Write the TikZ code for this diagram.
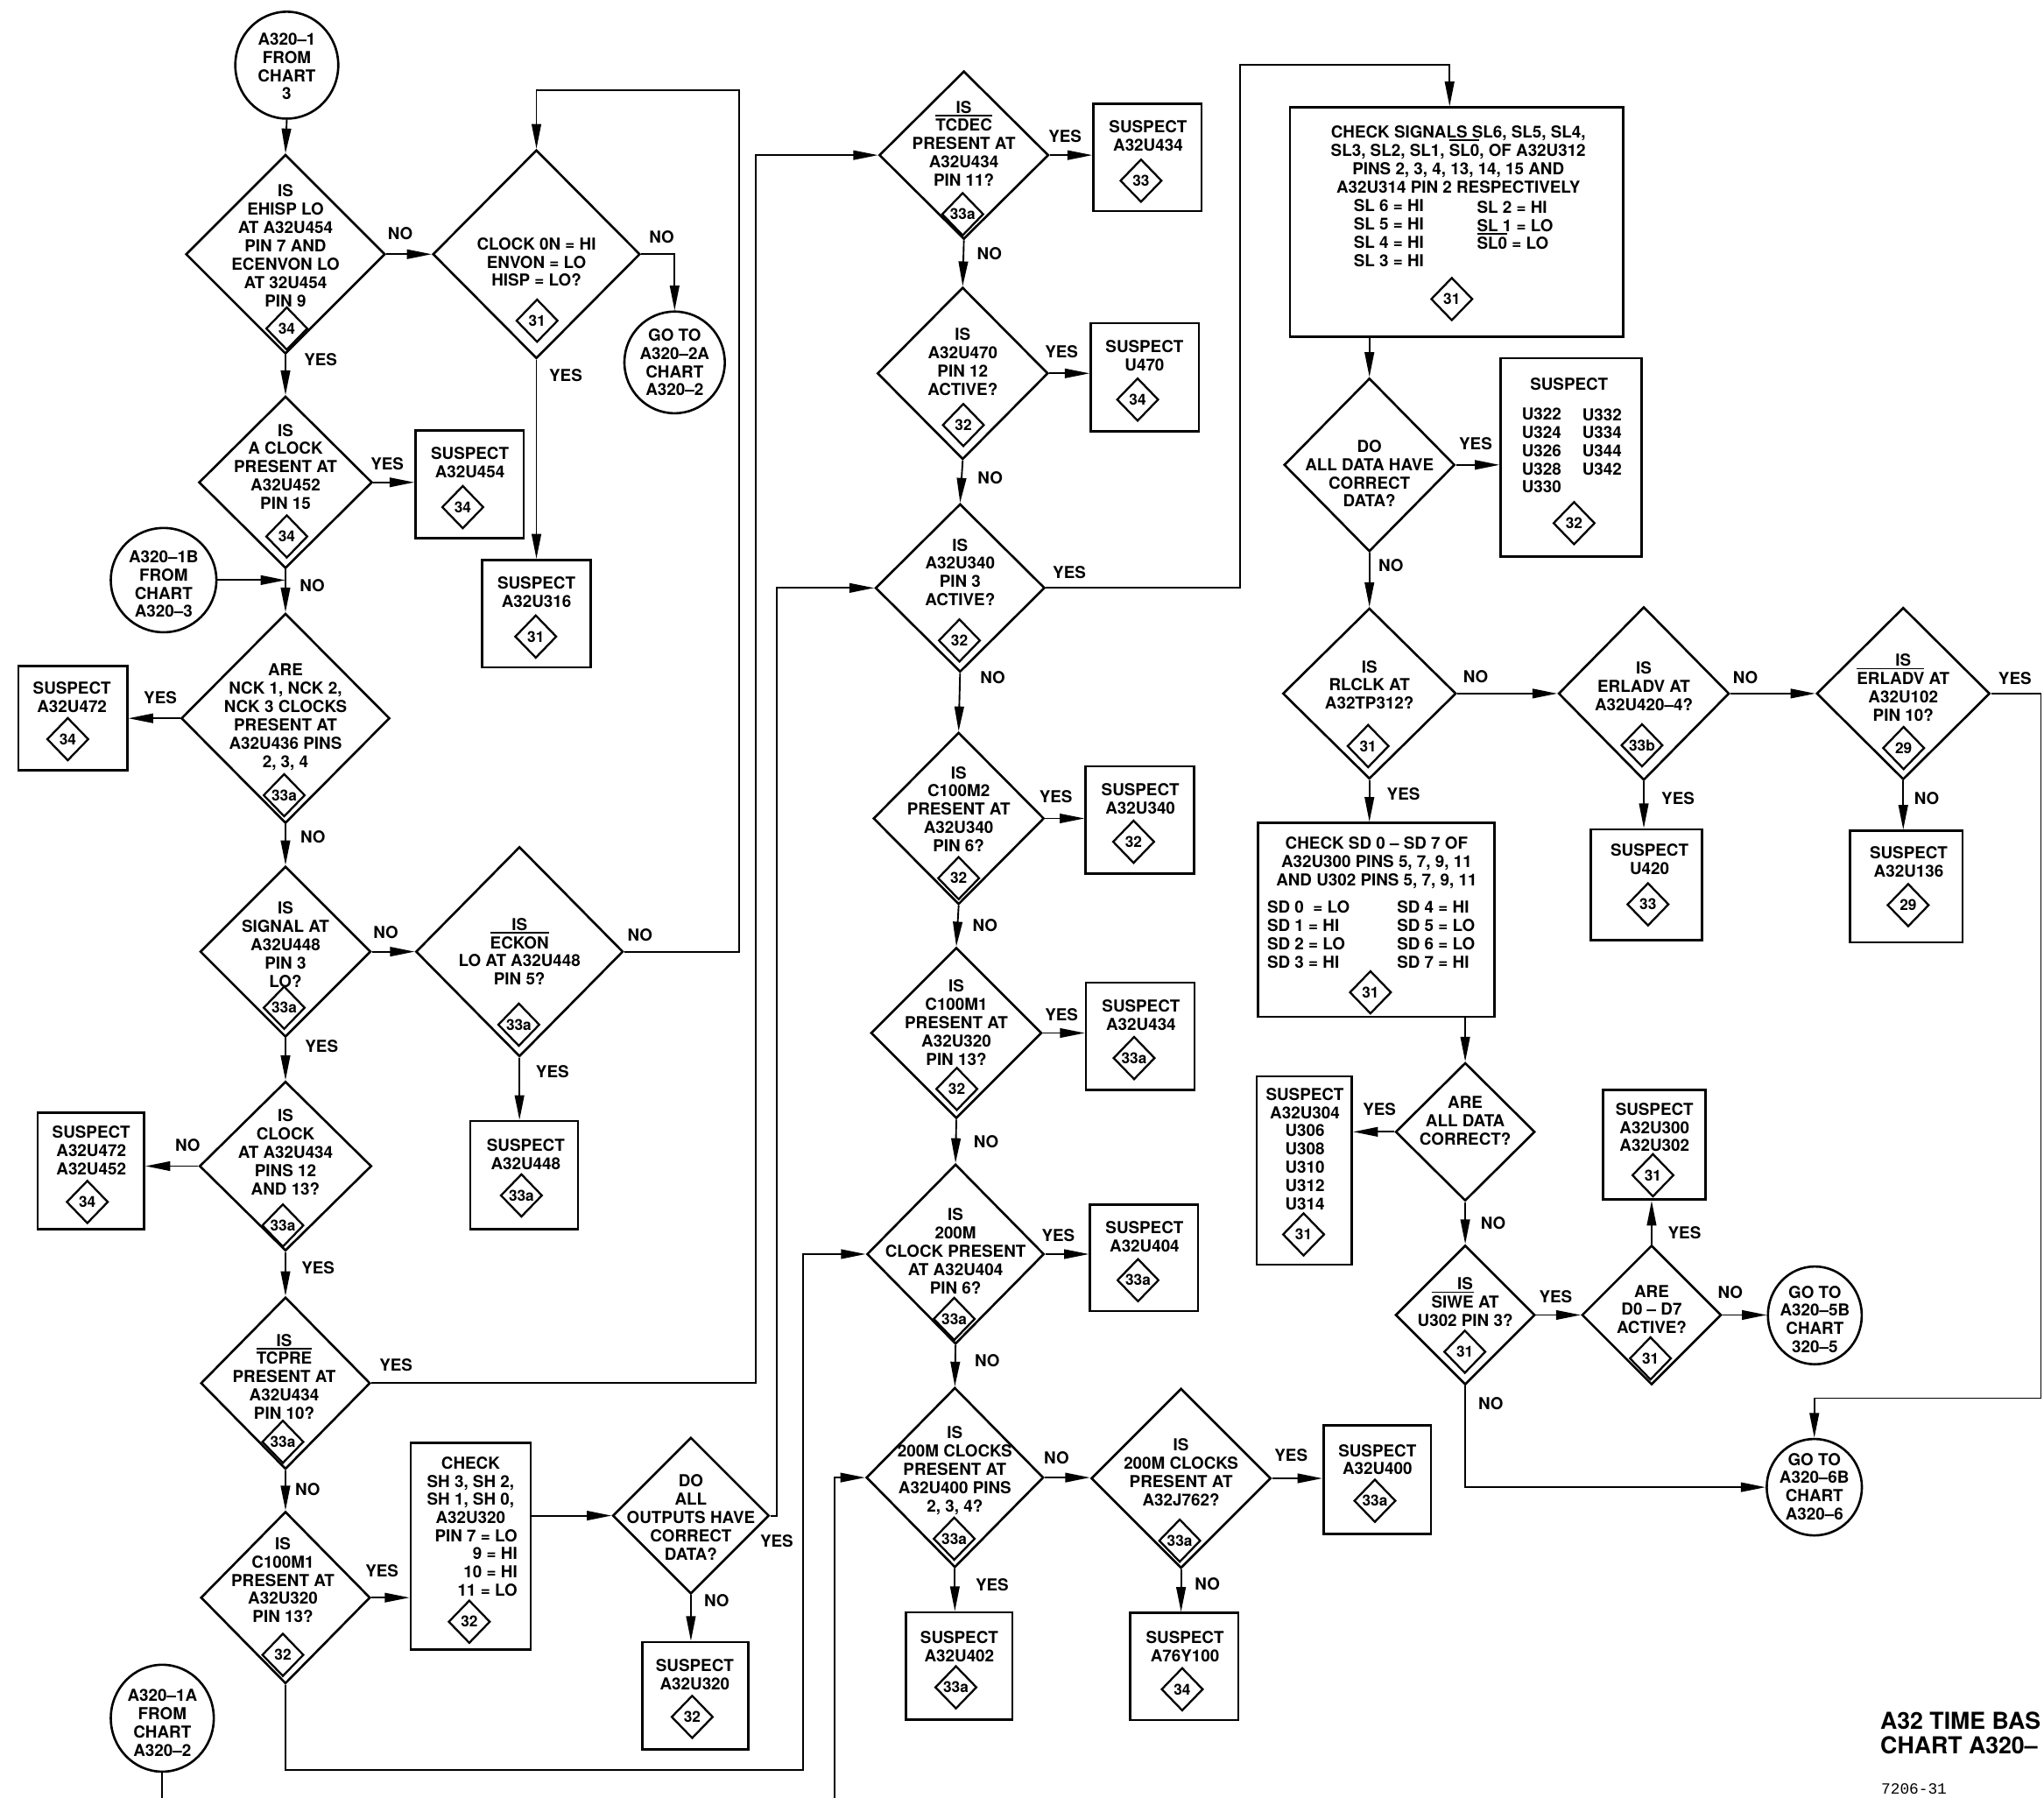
\documentclass[tikz,border=0pt]{standalone}
\usepackage{fontspec}
\setmainfont{TeX Gyre Heros}
\newfontfamily\monof{Liberation Mono}
\usetikzlibrary{shapes.geometric,arrows.meta,calc}
\newcommand\ovl[1]{\smash{\vbox{\hrule height 1.6pt\kern 3.2pt\hbox{#1}}}}
\begin{document}
\begin{tikzpicture}[x=0.5mm,y=-0.5mm,
  dia/.style={draw,diamond,inner sep=0pt,line width=2.5pt},
  bx/.style={draw,rectangle,inner sep=0pt,line width=2.5pt},
  term/.style={draw,ellipse,inner sep=0pt,line width=2.5pt},
  sz/.style 2 args={minimum width=#1*0.5mm,minimum height=#2*0.5mm},
  badge/.style={draw,diamond,inner sep=0pt,line width=2.2pt,minimum width=16mm,minimum height=16.5mm,font=\fontsize{16.5}{18}\selectfont\bfseries},
  txt/.style={align=center,inner sep=0pt,font=\fontsize{18}{19.92}\selectfont\bfseries},
  col/.style={align=left,anchor=west,inner sep=0pt,font=\fontsize{18}{19.92}\selectfont\bfseries},
  lbl/.style={inner sep=0pt,font=\fontsize{18}{19.92}\selectfont\bfseries},
  arr/.style={line width=1.8pt,-{Triangle[length=9.5mm,width=3.6mm]}},
  ln/.style={line width=1.8pt}]
\useasboundingbox (0,0) rectangle (1568,1379);

% ---------------- terminals
\node[term,sz={79}{82}] (c1) at (220,50) {};
\node[txt] (c1t) at (220,51) {A320–1\\FROM\\CHART\\3};
\node[term,sz={77}{78}] (c2) at (517.5,278) {};
\node[txt] (c2t) at (517.5,278) {GO TO\\A320–2A\\CHART\\A320–2};
\node[term,sz={81}{80}] (c3) at (125.5,445) {};
\node[txt] (c3t) at (125.5,448) {A320–1B\\FROM\\CHART\\A320–3};
\node[term,sz={79}{82}] (c4) at (124.5,1318) {};
\node[txt] (c4t) at (124.5,1321.5) {A320–1A\\FROM\\CHART\\A320–2};
\node[term,sz={72}{75}] (c5) at (1392.2,1009) {};
\node[txt] (c5t) at (1392.2,1012) {GO TO\\A320–5B\\CHART\\320–5};
\node[term,sz={73}{74}] (c6) at (1391.8,1140.8) {};
\node[txt] (c6t) at (1391.8,1140.3) {GO TO\\A320–6B\\CHART\\A320–6};

% ---------------- left column diamonds
\node[dia,sz={153}{153}] (d1) at (219,195) {};
\node[txt] (d1t) at (219,188.5) {IS\\EHISP LO\\AT A32U454\\PIN 7 AND\\ECENVON LO\\AT 32U454\\PIN 9};
\node[badge] (d1b) at (220,252) {34};
\node[dia,sz={159}{160}] (d2) at (411.5,195) {};
\node[txt] (d2t) at (411.5,201) {CLOCK 0N = HI\\ENVON = LO\\HISP = LO?};
\node[badge] (d2b) at (412,246) {31};
\node[dia,sz={133}{132}] (d3) at (219,370) {};
\node[txt] (d3t) at (219,358) {IS\\A CLOCK\\PRESENT AT\\A32U452\\PIN 15};
\node[badge] (d3b) at (220,411.5) {34};
\node[dia,sz={160}{161}] (d4) at (219,551) {};
\node[txt] (d4t) at (219,550) {ARE\\NCK 1, NCK 2,\\NCK 3 CLOCKS\\PRESENT AT\\A32U436 PINS\\2, 3, 4};
\node[badge] (d4b) at (218,610) {33a};
\node[dia,sz={131}{131}] (d5) at (219,730) {};
\node[txt] (d5t) at (219,724.5) {IS\\SIGNAL AT\\A32U448\\PIN 3\\LO?};
\node[badge] (d5b) at (218,773) {33a};
\node[dia,sz={159}{161}] (d6) at (398.5,730) {};
\node[txt] (d6t) at (398.5,730) {IS\\\ovl{ECKON}\\LO AT A32U448\\PIN 5?};
\node[badge] (d6b) at (398,786) {33a};
\node[dia,sz={132}{130}] (d7) at (219,894.5) {};
\node[txt] (d7t) at (219,883.7) {IS\\CLOCK\\AT A32U434\\PINS 12\\AND 13?};
\node[badge] (d7b) at (217,940) {33a};
\node[dia,sz={130}{132}] (d8) at (219,1061) {};
\node[txt] (d8t) at (218,1056) {IS\\\ovl{TCPRE}\\PRESENT AT\\A32U434\\PIN 10?};
\node[badge] (d8b) at (217,1106) {33a};
\node[dia,sz={130}{132}] (d9) at (219,1225.5) {};
\node[txt] (d9t) at (217,1212) {IS\\C100M1\\PRESENT AT\\A32U320\\PIN 13?};
\node[badge] (d9b) at (217,1269.4) {32};
\node[dia,sz={120}{120}] (d10) at (530,1162.6) {};
\node[txt] (d10t) at (530,1164) {DO\\ALL\\OUTPUTS HAVE\\CORRECT\\DATA?};

% ---------------- middle column diamonds
\node[dia,sz={130}{129}] (d11) at (739.4,119) {};
\node[txt] (d11t) at (739.4,110) {IS\\\ovl{TCDEC}\\PRESENT AT\\A32U434\\PIN 11?};
\node[badge] (d11b) at (738.5,164.3) {33a};
\node[dia,sz={131}{132}] (d12) at (738.5,286.4) {};
\node[txt] (d12t) at (738.5,277.4) {IS\\A32U470\\PIN 12\\ACTIVE?};
\node[badge] (d12b) at (739,326) {32};
\node[dia,sz={130}{129}] (d13) at (736.5,451) {};
\node[txt] (d13t) at (736.5,439) {IS\\A32U340\\PIN 3\\ACTIVE?};
\node[badge] (d13b) at (736,491.3) {32};
\node[dia,sz={131}{132}] (d14) at (735.4,627.8) {};
\node[txt] (d14t) at (735.4,620.7) {IS\\C100M2\\PRESENT AT\\A32U340\\PIN 6?};
\node[badge] (d14b) at (735.4,673.6) {32};
\node[dia,sz={131}{131}] (d15) at (733.6,792.4) {};
\node[txt] (d15t) at (733.6,784.5) {IS\\C100M1\\PRESENT AT\\A32U320\\PIN 13?};
\node[badge] (d15b) at (734,835.3) {32};
\node[dia,sz={136}{138}] (d16) at (733,962) {};
\node[txt] (d16t) at (733,959.7) {IS\\200M\\CLOCK PRESENT\\AT A32U404\\PIN 6?};
\node[badge] (d16b) at (732,1011.7) {33a};
\node[dia,sz={136}{138}] (d17) at (732.5,1133.4) {};
\node[txt] (d17t) at (732.5,1128) {IS\\200M CLOCKS\\PRESENT AT\\A32U400 PINS\\2, 3, 4?};
\node[badge] (d17b) at (732,1180.3) {33a};
\node[dia,sz={138}{138}] (d18) at (906,1134) {};
\node[txt] (d18t) at (906,1129.5) {IS\\200M CLOCKS\\PRESENT AT\\A32J762?};
\node[badge] (d18b) at (905,1181.8) {33a};

% ---------------- right diamonds
\node[dia,sz={131}{133}] (d21) at (1050.5,356.6) {};
\node[txt] (d21t) at (1050.5,363.2) {DO\\ALL DATA HAVE\\CORRECT\\DATA?};
\node[dia,sz={133}{131}] (d22) at (1050.5,532) {};
\node[txt] (d22t) at (1050.5,525.4) {IS\\RLCLK AT\\A32TP312?};
\node[badge] (d22b) at (1049.5,572.3) {31};
\node[dia,sz={131}{133}] (d23) at (1261,532) {};
\node[txt] (d23t) at (1261,526.3) {IS\\ERLADV AT\\A32U420–4?};
\node[badge] (d23b) at (1259.6,571.7) {33b};
\node[dia,sz={133}{132}] (d24) at (1460,532) {};
\node[txt] (d24t) at (1460,527.3) {IS\\\ovl{ERLADV} AT\\A32U102\\PIN 10?};
\node[badge] (d24b) at (1460.3,573.8) {29};
\node[dia,sz={107}{106}] (d25) at (1124,868.2) {};
\node[txt] (d25t) at (1124,859.8) {ARE\\ALL DATA\\CORRECT?};
\node[dia,sz={107}{107}] (d26) at (1124,1008.7) {};
\node[txt] (d26t) at (1124,998.8) {IS\\\ovl{SIWE} AT\\U302 PIN 3?};
\node[badge] (d26b) at (1123.7,1036.9) {31};
\node[dia,sz={107}{107}] (d27) at (1267,1008.7) {};
\node[txt] (d27t) at (1267,1004.5) {ARE\\D0 – D7\\ACTIVE?};
\node[badge] (d27b) at (1266.1,1042) {31};

% ---------------- boxes
\node[bx,sz={83}{82.5}] (b316) at (411.5,470.75) {};
\node[txt] (b316t) at (411.5,454.3) {SUSPECT\\A32U316};
\node[badge] (b316b) at (411,488.3) {31};
\node[bx,sz={83.1}{83}] (b454) at (360.25,371.5) {};
\node[txt] (b454t) at (360.5,355) {SUSPECT\\A32U454};
\node[badge] (b454b) at (355,389) {34};
\node[bx,sz={83.6}{80.2}] (b472) at (55.8,550.9) {};
\node[txt] (b472t) at (55.2,534.9) {SUSPECT\\A32U472};
\node[badge] (b472b) at (52,567) {34};
\node[bx,sz={81.7}{89.3}] (b472x) at (69.85,898.15) {};
\node[txt] (b472xt) at (70,882.3) {SUSPECT\\A32U472\\A32U452};
\node[badge] (b472xb) at (67,922) {34};
\node[bx,sz={82.7}{82.8}] (b448) at (402.15,901.4) {};
\node[txt] (b448t) at (403.3,885.7) {SUSPECT\\A32U448};
\node[badge] (b448b) at (400,917) {33a};
\node[bx,sz={92}{158.8}] (bsh) at (361,1186.1) {};
\node[txt] (bsht) at (361,1143.2) {CHECK\\SH 3, SH 2,\\SH 1, SH 0,\\A32U320};
\node[txt,align=right,anchor=east] (bsht2) at (397,1198.8) {PIN 7 = LO\\9 = HI\\10 = HI\\11 = LO};
\node[badge] (bshb) at (360,1244) {32};
\node[bx,sz={81.3}{82.4}] (b320) at (533.35,1300.8) {};
\node[txt] (b320t) at (533,1284.8) {SUSPECT\\A32U320};
\node[badge] (b320b) at (531,1317) {32};

\node[bx,sz={83}{82.5}] (b434a) at (880.3,120.75) {};
\node[txt] (b434at) at (880.7,104.5) {SUSPECT\\A32U434};
\node[badge] (b434ab) at (875.3,138.6) {33};
\node[bx,sz={83}{82.8}] (b470) at (878.2,289.4) {};
\node[txt] (b470t) at (878,273) {SUSPECT\\U470};
\node[badge] (b470b) at (872.7,306.5) {34};
\node[bx,sz={83.1}{82.4}] (b340) at (874.35,629.1) {};
\node[txt] (b340t) at (874.8,612.8) {SUSPECT\\A32U340};
\node[badge] (b340b) at (869.6,645.7) {32};
\node[bx,sz={83.4}{82.5}] (b434b) at (874.7,794.95) {};
\node[txt] (b434bt) at (875.3,778.8) {SUSPECT\\A32U434};
\node[badge] (b434bb) at (870,811.6) {33a};
\node[bx,sz={82.8}{81.7}] (b404) at (877.6,964.85) {};
\node[txt] (b404t) at (878,948.9) {SUSPECT\\A32U404};
\node[badge] (b404b) at (873,982) {33a};
\node[bx,sz={81.7}{82.3}] (b402) at (735.65,1277.85) {};
\node[txt] (b402t) at (735.9,1263) {SUSPECT\\A32U402};
\node[badge] (b402b) at (733.3,1294.3) {33a};
\node[bx,sz={82.8}{82.2}] (by100) at (908.4,1278.4) {};
\node[txt] (by100t) at (909,1263.3) {SUSPECT\\A76Y100};
\node[badge] (by100b) at (906.9,1295.8) {34};
\node[bx,sz={82.3}{83.2}] (b400) at (1056.45,1134.9) {};
\node[txt] (b400t) at (1056.6,1119.6) {SUSPECT\\A32U400};
\node[badge] (b400b) at (1054.7,1151.2) {33a};

\node[bx,sz={255.4}{176}] (bsl) at (1117.3,170.5) {};
\node[txt] (bslt) at (1118.7,122.2) {CHECK SIGNALS SL6, SL5, SL4,\\SL3, SL2, SL1, \ovl{SL0}, OF A32U312\\PINS 2, 3, 4, 13, 14, 15 AND\\A32U314 PIN 2 RESPECTIVELY};
\node[col] (bsll) at (1038.3,178.7) {SL 6 = HI\\SL 5 = HI\\SL 4 = HI\\SL 3 = HI};
\node[col] (bslr) at (1132.9,172.75) {SL 2 = HI\\SL 1 = LO\\\ovl{SL0} = LO};
\node[badge] (bslb) at (1113.7,229.4) {31};

\node[bx,sz={108}{152.1}] (bu322) at (1205.2,350.75) {};
\node[txt] (bu322t) at (1203.7,294.5) {SUSPECT};
\node[col] (bu322l) at (1167.3,345.6) {U322\\U324\\U326\\U328\\U330};
\node[col] (bu322r) at (1213.7,339) {U332\\U334\\U344\\U342};
\node[badge] (bu322b) at (1207.5,401.3) {32};

\node[bx,sz={181.6}{148.7}] (bsd) at (1055.8,705.65) {};
\node[txt] (bsdt) at (1056,661.6) {CHECK SD 0 – SD 7 OF\\A32U300 PINS 5, 7, 9, 11\\AND U302 PINS 5, 7, 9, 11};
\node[col] (bsdl) at (972,717) {SD 0 \ = LO\\SD 1 = HI\\SD 2 = LO\\SD 3 = HI};
\node[col] (bsdr) at (1071.6,717) {SD 4 = HI\\SD 5 = LO\\SD 6 = LO\\SD 7 = HI};
\node[badge] (bsdb) at (1051.3,761.2) {31};

\node[bx,sz={85.4}{85.2}] (b420) at (1262.9,678.7) {};
\node[txt] (b420t) at (1265.4,659) {SUSPECT\\U420};
\node[badge] (b420b) at (1264.2,693.7) {33};
\node[bx,sz={86.2}{85.5}] (b136) at (1462.4,680.05) {};
\node[txt] (b136t) at (1464.2,661.2) {SUSPECT\\A32U136};
\node[badge] (b136b) at (1463.8,694.3) {29};
\node[bx,sz={73.1}{144.4}] (b304) at (1000.55,897.9) {};
\node[txt] (b304t) at (1001,881.3) {SUSPECT\\A32U304\\U306\\U308\\U310\\U312\\U314};
\node[badge] (b304b) at (1000,946.9) {31};
\node[bx,sz={78.5}{84}] (b300) at (1269.05,878.2) {};
\node[txt] (b300t) at (1269.2,864.7) {SUSPECT\\A32U300\\A32U302};
\node[badge] (b300b) at (1268,901.5) {31};

% ---------------- connectors
\coordinate (k1) at (567,69);
\coordinate (k2) at (580,119);
\coordinate (k3) at (596,451);
\coordinate (k4) at (616,1358);
\coordinate (k5) at (124.5,1379);
\coordinate (k6) at (640,1379);
\coordinate (k7) at (951.4,50);
\coordinate (k8) at (1112,50);
\coordinate (k9) at (1565.6,1072.5);

\draw[arr] (c1.south) -- (d1.north);
\draw[arr] (d1.east) -- (d2.west);
\draw[arr] (d2.east) -| (c2.north);
\draw[arr] (d2.south) -- (b316.north);
\draw[arr] (d1.south) -- (d3.north);
\draw[arr] (d3.east) -- (d3.east -| b454.west);
\draw[arr] (c3.east) -- (c3.east -| d3.south);
\draw[arr] (d3.south) -- (d4.north);
\draw[arr] (d4.west) -- (d4.west -| b472.east);
\draw[arr] (d4.south) -- (d5.north);
\draw[arr] (d5.east) -- (d6.west);
\draw[arr] (d6.east) -| (k1) -| (d2.north);
\draw[arr] (d6.south) -- (d6.south |- b448.north);
\draw[arr] (d5.south) -- (d7.north);
\draw[arr] (d7.west) -- (d7.west -| b472x.east);
\draw[arr] (d7.south) -- (d8.north);
\draw[arr] (d8.east) -| (k2) -- (d11.west);
\draw[arr] (d8.south) -- (d9.north);
\draw[arr] (d9.east) -- (d9.east -| bsh.west);
\draw[arr] (d10.west -| bsh.east) -- (d10.west);
\draw[arr] (d10.south) -- (d10.south |- b320.north);
\draw[arr] (d10.east) -| (k3) -- (d13.west);
\draw[arr] (d9.south) |- (k4) |- (d16.west);
\draw[ln] (c4.south) -- (k5);
\draw[arr] (k6) |- (d17.west);

\draw[arr] (d11.east) -- (d11.east -| b434a.west);
\draw[arr] (d11.south) -- (d12.north);
\draw[arr] (d12.east) -- (d12.east -| b470.west);
\draw[arr] (d12.south) -- (d13.north);
\draw[arr] (d13.east) -| (k7) -- (k8) -- (k8 |- bsl.north);
\draw[arr] (d13.south) -- (d14.north);
\draw[arr] (d14.east) -- (d14.east -| b340.west);
\draw[arr] (d14.south) -- (d15.north);
\draw[arr] (d15.east) -- (d15.east -| b434b.west);
\draw[arr] (d15.south) -- (d16.north);
\draw[arr] (d16.east) -- (d16.east -| b404.west);
\draw[arr] (d16.south) -- (d17.north);
\draw[arr] (d17.east) -- (d17.east -| d18.west);
\draw[arr] (d18.east) -- (d18.east -| b400.west);
\draw[arr] (d17.south) -- (d17.south |- b402.north);
\draw[arr] (d18.south) -- (d18.south |- by100.north);

\draw[arr] (d21.north |- bsl.south) -- (d21.north);
\draw[arr] (d21.east) -- (d21.east -| bu322.west);
\draw[arr] (d21.south) -- (d22.north);
\draw[arr] (d22.east) -- (d23.west);
\draw[arr] (d23.east) -- (d24.west);
\draw[arr] (d24.east) -| (k9) -| (c6.north);
\draw[arr] (d22.south) -- (d22.south |- bsd.north);
\draw[arr] (d23.south) -- (d23.south |- b420.north);
\draw[arr] (d24.south) -- (d24.south |- b136.north);
\draw[arr] (d25.north |- bsd.south) -- (d25.north);
\draw[arr] (d25.west) -- (d25.west -| b304.east);
\draw[arr] (d25.south) -- (d26.north);
\draw[arr] (d26.east) -- (d27.west);
\draw[arr] (d27.north) -- (d27.north |- b300.south);
\draw[arr] (d27.east) -- (d27.east -| c5.west);
\draw[arr] (d26.south) |- (c6.west);

% ---------------- labels
\node[lbl] (l1) at (307,179) {NO};
\node[lbl] (l2) at (246,276) {YES};
\node[lbl] (l3) at (507.6,182) {NO};
\node[lbl] (l4) at (434,288) {YES};
\node[lbl] (l5) at (297,356) {YES};
\node[lbl] (l6) at (239.6,449) {NO};
\node[lbl] (l7) at (123,535.4) {YES};
\node[lbl] (l8) at (240,642) {NO};
\node[lbl] (l9) at (296,715.3) {NO};
\node[lbl] (l10) at (491,717) {NO};
\node[lbl] (l11) at (423.8,822) {YES};
\node[lbl] (l12) at (246.7,802.6) {YES};
\node[lbl] (l13) at (144,878.8) {NO};
\node[lbl] (l14) at (244,972.5) {YES};
\node[lbl] (l15) at (303.8,1047.3) {YES};
\node[lbl] (l16) at (236,1142.3) {NO};
\node[lbl] (l17) at (293,1204.7) {YES};
\node[lbl] (l18) at (549.7,1227.8) {NO};
\node[lbl] (l19) at (595.8,1182.4) {YES};
\node[lbl] (l20) at (817,104.4) {YES};
\node[lbl] (l21) at (759,194.3) {NO};
\node[lbl] (l22) at (814.3,270) {YES};
\node[lbl] (l23) at (759.6,366.5) {NO};
\node[lbl] (l24) at (820.3,438.8) {YES};
\node[lbl] (l25) at (761.6,519.8) {NO};
\node[lbl] (l26) at (810,611.3) {YES};
\node[lbl] (l27) at (755.7,709.6) {NO};
\node[lbl] (l28) at (814.3,778.6) {YES};
\node[lbl] (l29) at (756.5,875.8) {NO};
\node[lbl] (l30) at (811.8,947.8) {YES};
\node[lbl] (l31) at (757.3,1043.4) {NO};
\node[lbl] (l32) at (810.5,1118) {NO};
\node[lbl] (l33) at (761.1,1215.7) {YES};
\node[lbl] (l34) at (926.2,1215) {NO};
\node[lbl] (l35) at (990.4,1116.5) {YES};
\node[lbl] (l36) at (1132,340.4) {YES};
\node[lbl] (l37) at (1067,434) {NO};
\node[lbl] (l38) at (1132,519.2) {NO};
\node[lbl] (l39) at (1338.9,519.8) {NO};
\node[lbl] (l40) at (1545.7,520.7) {YES};
\node[lbl] (l41) at (1076.6,609.2) {YES};
\node[lbl] (l42) at (1287.2,612.2) {YES};
\node[lbl] (l43) at (1478,612.2) {NO};
\node[lbl] (l44) at (1058.2,850.6) {YES};
\node[lbl] (l45) at (1145.5,938.3) {NO};
\node[lbl] (l46) at (1193.4,994.5) {YES};
\node[lbl] (l47) at (1292.2,945.8) {YES};
\node[lbl] (l48) at (1327.4,991.5) {NO};
\node[lbl] (l49) at (1143.6,1076.4) {NO};

% ---------------- title
\node[anchor=west,inner sep=0pt,align=left,font=\fontsize{25.5}{27.4}\selectfont\bfseries] (title) at (1442.3,1329.3) {A32 TIME BAS\\CHART A320–};
\node[anchor=west,inner sep=0pt,font=\fontsize{17}{18}\selectfont\monof] (fig) at (1443,1372) {7206-31};
\end{tikzpicture}
\end{document}
